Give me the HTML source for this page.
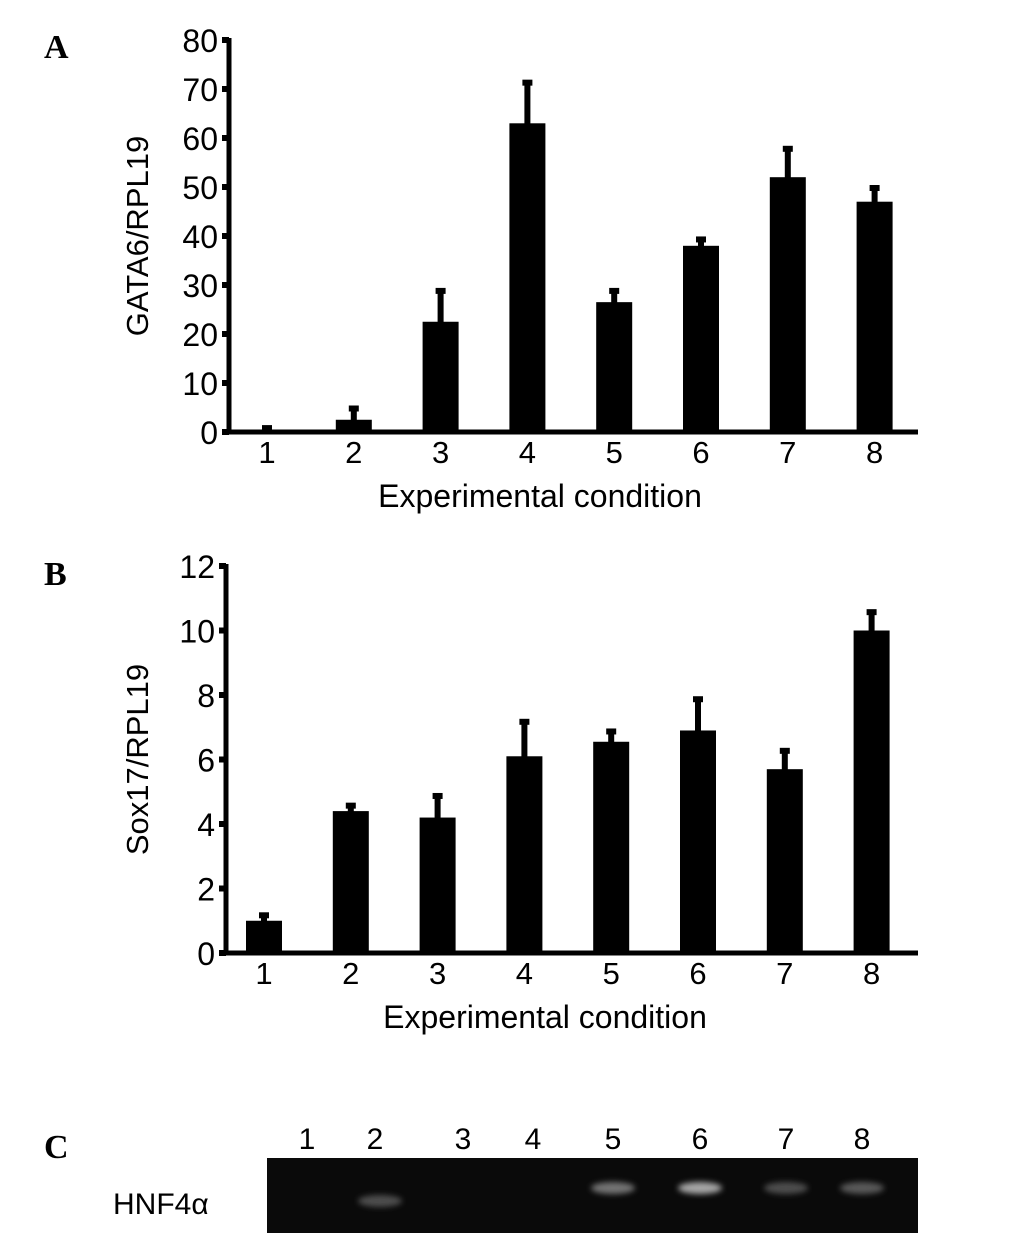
<!DOCTYPE html>
<html><head><meta charset="utf-8"><style>
body{margin:0;background:#fff;width:1033px;height:1246px;overflow:hidden}
svg text{font-family:"Liberation Sans",Arial,sans-serif}
</style></head><body>
<svg id="fig" width="1033" height="1246" xmlns="http://www.w3.org/2000/svg">
<defs><filter id="blur" x="-50%" y="-100%" width="200%" height="300%"><feGaussianBlur stdDeviation="3"/></filter></defs>
<text x="44" y="58" font-weight="bold" font-size="34" style="font-family:'Liberation Serif',serif">A</text>
<text x="44" y="585" font-weight="bold" font-size="34" style="font-family:'Liberation Serif',serif">B</text>
<text x="44" y="1158" font-weight="bold" font-size="34" style="font-family:'Liberation Serif',serif">C</text>
<g id="ga"></g>
<g id="gb"></g>
<g>
<rect x="267" y="1158" width="651" height="75" fill="#0a0a0a"/>
<text x="113" y="1214" font-size="30">HNF4α</text>
<g id="gc"></g>
</g>
</svg>
<script>
const categories=["1","2","3","4","5","6","7","8"];
const gataValues=[0.5,2.5,22.5,63,26.5,38,52,47];
const gataErrTop=[1,5,29,71.5,29,39.5,58,50];
const gataTicks=[0,10,20,30,40,50,60,70,80];
const soxValues=[1,4.4,4.2,6.1,6.55,6.9,5.7,10];
const soxErrTop=[1.2,4.6,4.9,7.2,6.9,7.9,6.3,10.6];
const soxTicks=[0,2,4,6,8,10,12];
const gelIntensity=[0,0.3,0,0,0.45,0.65,0.3,0.35];
const gelLaneX=[307,375,463,533,613,700,786,862];
const NS="http://www.w3.org/2000/svg";
function mk(p,t,a){const e=document.createElementNS(NS,t);for(const k in a)e.setAttribute(k,a[k]);p.appendChild(e);return e;}
function chart(g,cfg){
  const {x0,x1,y0,yTop,max,ticks,vals,errs,ylab,yl,xlabY,xlabX}=cfg;
  const y=v=>y0-(y0-yTop)*v/max;
  const cx=i=>x0+38+i*86.8;
  const ax=mk(g,'path',{d:`M${x0} ${yTop-2}V${y0}H${x1}`,stroke:'#000','stroke-width':5,fill:'none'});
  
  ticks.forEach(t=>{
    const tk=mk(g,'rect',{x:x0-7,y:y(t)-3,width:7,height:6,fill:'#000'});
    
    const tl=mk(g,'text',{x:x0-11,y:y(t)+12,'text-anchor':'end','font-size':32});tl.textContent=t;
    
  });
  vals.forEach((v,i)=>{
    const c=cx(i);
    const eb=mk(g,'rect',{x:c-3,y:y(errs[i]),width:6,height:y(v)-y(errs[i])+4,fill:'#000'});
    
    const cap=mk(g,'rect',{x:c-5,y:y(errs[i])-2,width:10,height:6,fill:'#000'});
    
    const b=mk(g,'rect',{x:c-18,y:y(v),width:36,height:y0-y(v),fill:'#000'});
    
    const xl=mk(g,'text',{x:c,y:y0+31,'text-anchor':'middle','font-size':31});xl.textContent=categories[i];
    
  });
  const xt=mk(g,'text',{x:xlabX,y:xlabY,'text-anchor':'middle','font-size':32});xt.textContent='Experimental condition';
  
  const yt=mk(g,'text',{x:0,y:0,'text-anchor':'middle','font-size':31,transform:`translate(${yl} ${(y0+yTop)/2}) rotate(-90)`});yt.textContent=ylab;
  
}
chart(document.getElementById('ga'),{x0:229,x1:918,y0:432,yTop:40,max:80,ticks:gataTicks,vals:gataValues,errs:gataErrTop,ylab:'GATA6/RPL19',yl:148,xlabY:507,xlabX:540});
chart(document.getElementById('gb'),{x0:226,x1:918,y0:953,yTop:566,max:12,ticks:soxTicks,vals:soxValues,errs:soxErrTop,ylab:'Sox17/RPL19',yl:148,xlabY:1028,xlabX:545});
const gc=document.getElementById('gc');
categories.forEach((c,i)=>{
  const t=mk(gc,'text',{x:gelLaneX[i],y:1149,'text-anchor':'middle','font-size':30});t.textContent=c;
  
  if(gelIntensity[i]>0){
    const v=Math.round(255*gelIntensity[i]);
    const b=mk(gc,'ellipse',{cx:gelLaneX[i]+(i==1?5:0),cy:i==1?1201:1188,rx:22,ry:6,fill:`rgb(${v},${v},${v})`,filter:'url(#blur)'});
    
  }
});
</script>
</body></html>
